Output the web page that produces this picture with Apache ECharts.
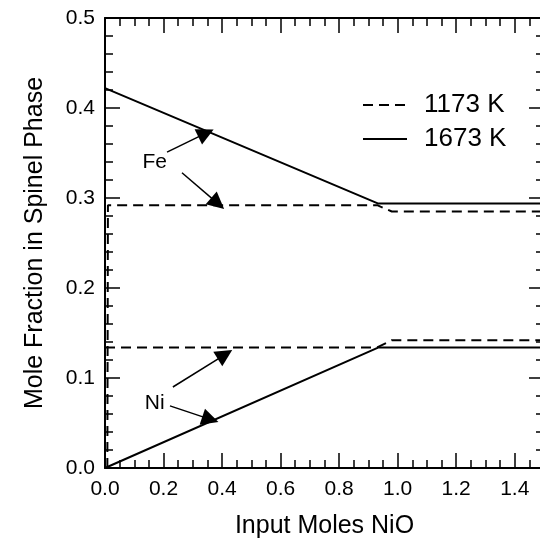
<!DOCTYPE html>
<html><head><meta charset="utf-8">
<script src="https://cdn.jsdelivr.net/npm/echarts@6/dist/echarts.min.js"></script>
<style>html,body{margin:0;padding:0;background:#fff}#c{width:540px;height:539px}</style>
</head><body><div id="c"></div>
<script>
// Data (x = input moles NiO, y = mole fraction in spinel phase)
const fe1173 = [[0.008, 0.0], [0.01, 0.292], [0.93, 0.292], [0.98, 0.285], [1.5, 0.285]];
const ni1173 = [[0.0, 0.134], [0.93, 0.134], [0.98, 0.142], [1.5, 0.142]];
const fe1673 = [[0.0, 0.422], [0.932, 0.294], [1.5, 0.294]];
const ni1673 = [[0.0, 0.0], [0.935, 0.134], [1.5, 0.134]];
const arrowsFe = [[[0.212, 0.351], [0.345, 0.372]], [[0.263, 0.328], [0.385, 0.294]]];
const arrowsNi = [[[0.232, 0.090], [0.41, 0.126]], [[0.222, 0.069], [0.36, 0.054]]];
const labelsTxt = [[0.17, 0.34, 'Fe'], [0.17, 0.072, 'Ni']];
const legendNames = ['1173 K', '1673 K'];

const FONT = 'Liberation Sans, Arial, sans-serif';
const chart = echarts.init(document.getElementById('c'), null, {renderer: 'canvas'});

function xAx(pos, interval, len, labels, line) {
  return {
    type: 'value', position: pos, min: 0, max: 1.5, interval: interval,
    axisLine: {show: line, onZero: false, lineStyle: {color: '#000', width: 2}},
    axisTick: {show: true, inside: true, length: len, lineStyle: {color: '#000', width: 1.5}},
    axisLabel: {show: labels, color: '#000', fontSize: 21, fontFamily: FONT, margin: 11,
      showMaxLabel: false, formatter: v => v.toFixed(1)},
    splitLine: {show: false},
    name: labels ? 'Input Moles NiO' : '', nameLocation: 'middle', nameGap: 46,
    nameTextStyle: {color: '#000', fontSize: 25, fontFamily: FONT}
  };
}
function yAx(pos, interval, len, labels, line) {
  return {
    type: 'value', position: pos, min: 0, max: 0.5, interval: interval,
    axisLine: {show: line, onZero: false, lineStyle: {color: '#000', width: 2}},
    axisTick: {show: true, inside: true, length: len, lineStyle: {color: '#000', width: 1.5}},
    axisLabel: {show: labels, color: '#000', fontSize: 21, fontFamily: FONT, margin: 10,
      formatter: v => v.toFixed(1)},
    splitLine: {show: false},
    name: labels ? 'Mole Fraction in Spinel Phase' : '', nameLocation: 'middle', nameGap: 57,
    nameTextStyle: {color: '#000', fontSize: 25, fontFamily: FONT}
  };
}

function lineSeries(name, data, dashed) {
  return {
    name: name, type: 'line', data: data, symbol: 'none', animation: false,
    lineStyle: {color: '#000', width: 2, type: dashed ? [10, 6] : 'solid'},
    itemStyle: {color: '#000'}
  };
}
function arrowSeries(arr) {
  return {
    type: 'lines', coordinateSystem: 'cartesian2d', animation: false,
    symbol: ['none', 'triangle'], symbolSize: [10, 17],
    lineStyle: {color: '#000', width: 1.5, opacity: 1, curveness: 0},
    data: arr.map(c => ({coords: c}))
  };
}

chart.setOption({
  animation: false,
  backgroundColor: '#fff',
  textStyle: {fontFamily: FONT},
  grid: {left: 105, top: 18, width: 439, height: 450, containLabel: false, outerBoundsMode: 'none'},
  xAxis: [
    xAx('bottom', 0.2, 15, true, true),
    xAx('bottom', 0.05, 8, false, false),
    xAx('top', 0.2, 15, false, true),
    xAx('top', 0.05, 8, false, false)
  ],
  yAxis: [
    yAx('left', 0.1, 15, true, true),
    yAx('left', 0.02, 8, false, false),
    yAx('right', 0.1, 15, false, true),
    yAx('right', 0.02, 8, false, false)
  ],
  legend: {
    orient: 'vertical', left: 362, top: 92, padding: 0, itemWidth: 44, itemHeight: 30, itemGap: 8,
    data: legendNames,
    itemStyle: {color: 'rgba(0,0,0,0)', opacity: 0, borderWidth: 0},
    textStyle: {color: '#000', fontSize: 26, fontFamily: FONT, padding: [0, 0, 0, 12]},
    selectedMode: false
  },
  series: [
    lineSeries(legendNames[0], fe1173, true),
    lineSeries(legendNames[0], ni1173, true),
    lineSeries(legendNames[1], fe1673, false),
    lineSeries(legendNames[1], ni1673, false),
    arrowSeries(arrowsFe),
    arrowSeries(arrowsNi),
    {
      type: 'scatter', symbolSize: 0, animation: false, data: labelsTxt,
      itemStyle: {color: '#000', opacity: 1},
      label: {show: true, position: 'inside', formatter: p => p.data[2],
        color: '#000', fontSize: 21, fontFamily: FONT, textBorderWidth: 0, opacity: 1}
    }
  ]
});
</script></body></html>
